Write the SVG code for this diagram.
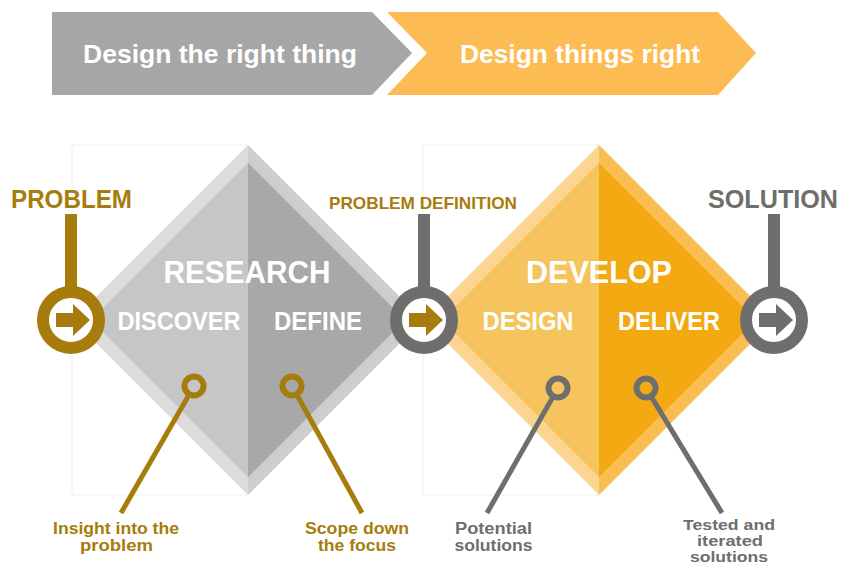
<svg xmlns="http://www.w3.org/2000/svg" width="841" height="566" viewBox="0 0 841 566">
  <defs>
    <style>
      .t { font-family: "Liberation Sans", Arial, sans-serif; font-weight: bold; }
      .w { fill: #ffffff; }
      .gold { fill: #a67c0c; }
      .grey { fill: #6e6e6e; }
      .lbl { font-size: 16px; text-anchor: middle; }
      .ring-g { fill: #ffffff; stroke: #a67c0c; stroke-width: 12; }
      .ring-s { fill: #ffffff; stroke: #6e6e6e; stroke-width: 12; }
      .dot-g { fill: none; stroke: #a67c0c; stroke-width: 6; }
      .dot-s { fill: none; stroke: #6e6e6e; stroke-width: 6; }
      .ln-g { stroke: #a67c0c; stroke-width: 5; stroke-linecap: butt; }
      .ln-s { stroke: #6e6e6e; stroke-width: 5; stroke-linecap: butt; }
      .stem-g { stroke: #a67c0c; stroke-width: 12; }
      .stem-s { stroke: #6e6e6e; stroke-width: 12; }
      .frame { fill: none; stroke: #efefef; stroke-width: 1; }
    </style>
    <path id="arrow" d="M-15,-7 H2 V-16 L19,0 L2,16 V7 H-15 Z"/>
  </defs>
  <rect width="841" height="566" fill="#ffffff"/>

  <g id="banner-left">
    <path d="M52,12 L372,12 L412,53 L372,95 L52,95 Z" fill="#a6a6a6"/>
    <text class="t w" x="220" y="63" font-size="25" text-anchor="middle" textLength="274" lengthAdjust="spacingAndGlyphs">Design the right thing</text>
  </g>
  <g id="banner-right">
    <path d="M387,12 L718,12 L756,53 L718,95 L387,95 L427,53 Z" fill="#fcbb53"/>
    <text class="t w" x="580" y="63" font-size="25" text-anchor="middle" textLength="240" lengthAdjust="spacingAndGlyphs">Design things right</text>
  </g>

  <g id="frames">
    <path class="frame" d="M248,145 H72 V495 H248"/>
    <path class="frame" d="M599,145 H423 V495 H599"/>
  </g>

  <g id="research">
    <path d="M248,145 L73,320 L248,495 Z" fill="#dcdcdc"/>
    <path d="M248,145 L423,320 L248,495 Z" fill="#cdcdcd"/>
    <path d="M248,163 L91,320 L248,477 Z" fill="#c6c6c6"/>
    <path d="M248,163 L405,320 L248,477 Z" fill="#a8a8a8"/>
    <text class="t w" x="247" y="283" font-size="32" text-anchor="middle" textLength="167" lengthAdjust="spacingAndGlyphs">RESEARCH</text>
    <text class="t w" x="179" y="330" font-size="25" text-anchor="middle" textLength="123" lengthAdjust="spacingAndGlyphs">DISCOVER</text>
    <text class="t w" x="318" y="330" font-size="25" text-anchor="middle" textLength="88" lengthAdjust="spacingAndGlyphs">DEFINE</text>
  </g>

  <g id="develop">
    <path d="M599,145 L424,320 L599,495 Z" fill="#fcd592"/>
    <path d="M599,145 L774,320 L599,495 Z" fill="#f9bd52"/>
    <path d="M599,163 L442,320 L599,477 Z" fill="#f6c45c"/>
    <path d="M599,163 L756,320 L599,477 Z" fill="#f2a912"/>
    <text class="t w" x="599" y="283" font-size="32" text-anchor="middle" textLength="146" lengthAdjust="spacingAndGlyphs">DEVELOP</text>
    <text class="t w" x="528" y="330" font-size="25" text-anchor="middle" textLength="91" lengthAdjust="spacingAndGlyphs">DESIGN</text>
    <text class="t w" x="669" y="330" font-size="25" text-anchor="middle" textLength="102" lengthAdjust="spacingAndGlyphs">DELIVER</text>
  </g>

  <g id="connectors">
    <line class="stem-g" x1="71" y1="214" x2="71" y2="292"/>
    <line class="stem-s" x1="424" y1="214" x2="424" y2="292"/>
    <line class="stem-s" x1="774" y1="214" x2="774" y2="292"/>
    <line class="ln-g" x1="189.3" y1="394.2" x2="121" y2="513"/>
    <line class="ln-g" x1="296.6" y1="394.3" x2="362" y2="513"/>
    <line class="ln-s" x1="553.3" y1="396.3" x2="487" y2="513"/>
    <line class="ln-s" x1="650.9" y1="396.1" x2="722" y2="513"/>
  </g>

  <g id="problem">
    <text class="t gold" x="11" y="208" font-size="25" textLength="121" lengthAdjust="spacingAndGlyphs">PROBLEM</text>
    <circle class="ring-g" cx="71" cy="320" r="28"/>
    <use href="#arrow" x="71" y="320" fill="#a67c0c"/>
  </g>

  <g id="problem-definition">
    <text class="t gold" x="329" y="209" font-size="17" textLength="188" lengthAdjust="spacingAndGlyphs">PROBLEM DEFINITION</text>
    <circle class="ring-s" cx="424" cy="320" r="28"/>
    <use href="#arrow" x="424" y="320" fill="#a67c0c"/>
  </g>

  <g id="solution">
    <text class="t grey" x="708" y="208" font-size="25" textLength="130" lengthAdjust="spacingAndGlyphs">SOLUTION</text>
    <circle class="ring-s" cx="774" cy="320" r="28"/>
    <use href="#arrow" x="774" y="320" fill="#6e6e6e"/>
  </g>

  <g id="insight">
    <circle class="dot-g" cx="194" cy="386" r="9.5"/>
    <text class="t gold lbl" x="116" y="534" textLength="126" lengthAdjust="spacingAndGlyphs">Insight into the</text>
    <text class="t gold lbl" x="116.5" y="551" textLength="73" lengthAdjust="spacingAndGlyphs">problem</text>
  </g>

  <g id="scope">
    <circle class="dot-g" cx="292" cy="386" r="9.5"/>
    <text class="t gold lbl" x="357" y="534" textLength="104" lengthAdjust="spacingAndGlyphs">Scope down</text>
    <text class="t gold lbl" x="357" y="551" textLength="78" lengthAdjust="spacingAndGlyphs">the focus</text>
  </g>

  <g id="potential">
    <circle class="dot-s" cx="558" cy="388" r="9.5"/>
    <text class="t grey lbl" x="493.5" y="534" textLength="77" lengthAdjust="spacingAndGlyphs">Potential</text>
    <text class="t grey lbl" x="493.5" y="551" textLength="78" lengthAdjust="spacingAndGlyphs">solutions</text>
  </g>

  <g id="tested">
    <circle class="dot-s" cx="646" cy="388" r="9.5"/>
    <text class="t grey lbl" x="729" y="530" font-size="15" style="font-size:15px" textLength="92" lengthAdjust="spacingAndGlyphs">Tested and</text>
    <text class="t grey lbl" x="730" y="546" style="font-size:15px" textLength="66" lengthAdjust="spacingAndGlyphs">iterated</text>
    <text class="t grey lbl" x="729" y="562" style="font-size:15px" textLength="78" lengthAdjust="spacingAndGlyphs">solutions</text>
  </g>
</svg>
